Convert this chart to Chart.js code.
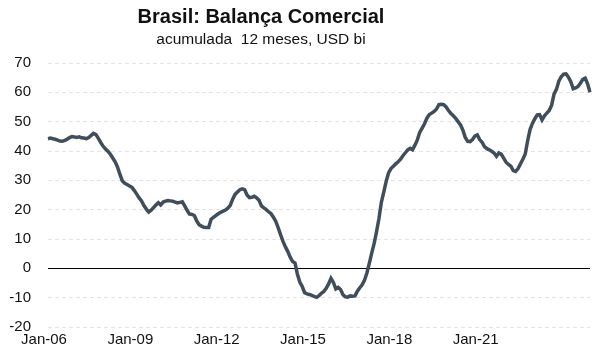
<!DOCTYPE html>
<html lang="pt">
<head>
  <meta charset="UTF-8" />
  <title>Brasil: Balança Comercial</title>
  <script src="https://cdn.jsdelivr.net/npm/chart.js"></script>
  <style>
    html, body {
      margin: 0;
      padding: 0;
      background: #fff;
    }
    #wrap {
      position: relative;
      width: 600px;
      height: 361px;
    }
  </style>
</head>
<body>
  <div id="wrap">
    <canvas id="tradeChart"></canvas>
  </div>

  <script>
    // 12-month accumulated trade balance, USD bn, monthly points from Jan-06
    const balance = [
      44.2, 44.4, 44.2, 44.0, 43.7, 43.4, 43.3, 43.6, 44.0, 44.6,
      44.9, 44.8, 44.6, 44.8, 44.5, 44.4, 44.2, 44.6, 45.3, 46.0,
      45.6, 44.3, 42.9, 41.6, 40.7, 39.9, 38.9, 37.6, 36.3, 34.5,
      32.0, 29.8, 29.0, 28.6, 28.1, 27.6, 26.5, 25.3, 24.0, 23.0,
      21.4, 20.2, 19.2, 19.8, 20.7, 21.6, 22.4, 21.6, 22.6, 22.9,
      23.1, 23.0, 22.9, 22.6, 22.3, 22.5, 22.7, 21.3, 19.8, 18.5,
      18.4, 18.0, 16.2, 14.9, 14.4, 14.0, 13.9, 13.9, 16.7, 17.4,
      18.0, 18.6, 19.1, 19.5, 19.9, 20.5, 21.5, 23.6, 25.2, 26.0,
      26.8, 27.1, 26.8, 25.0, 24.1, 24.2, 24.6, 24.0, 23.2, 21.3,
      20.6, 20.0, 19.3, 18.6, 17.4, 16.0, 13.8, 11.4, 9.2, 7.3,
      5.7, 3.8, 2.3, 1.8, -2.0, -4.7, -6.2, -8.3, -8.7, -8.9,
      -9.2, -9.6, -9.9, -9.3, -8.5, -7.9, -6.8, -5.3, -3.4, -4.8,
      -7.0, -6.5, -7.2, -9.0, -9.7, -9.8, -9.4, -9.5, -9.4, -7.8,
      -6.6, -5.6, -4.0, -1.5, 1.8, 5.3, 8.5, 12.5, 17.0, 22.5,
      26.0, 29.6, 32.5, 34.0, 34.8, 35.6, 36.3, 37.2, 38.4, 39.4,
      40.4, 40.9, 40.4, 42.0, 43.8, 46.3, 47.8, 49.3, 51.2, 52.4,
      52.9, 53.5, 54.3, 55.8, 55.9, 55.8, 55.0, 53.8, 52.8, 52.0,
      51.1, 50.0, 48.9, 47.1, 44.6, 43.3, 43.2, 43.9, 45.1, 45.5,
      43.9, 43.0, 41.5, 40.8, 40.4, 39.9, 39.3, 38.2, 39.3, 38.9,
      37.6, 36.2, 35.4, 34.8, 33.3, 33.0, 34.0, 35.6, 37.2, 39.0,
      43.5, 47.3, 49.4, 51.0, 52.3, 52.4, 50.6, 52.0, 52.9, 53.8,
      55.6, 59.4, 61.0, 63.8, 65.3, 66.2, 66.3, 65.2, 63.6, 61.2,
      61.5, 62.0, 63.1, 64.4, 64.8, 62.9, 60.0
    ];

    // category labels shown every 36 months
    const tickLabels = ['Jan-06', 'Jan-09', 'Jan-12', 'Jan-15', 'Jan-18', 'Jan-21'];
    const tickStep = 36;

    const yMin = -20;
    const yMax = 70;
    const yStep = 10;

    const title = 'Brasil: Balança Comercial';
    const subtitle = 'acumulada  12 meses, USD bi';

    const categories = balance.map((_, i) => i);

    // zero line + two-line heading drawn over the chart
    const extras = {
      id: 'extras',
      beforeDatasetsDraw(chart) {
        const { ctx, chartArea, scales } = chart;
        const y0 = Math.round(scales.y.getPixelForValue(0)) + 0.5;
        ctx.save();
        ctx.strokeStyle = '#000';
        ctx.lineWidth = 1;
        ctx.beginPath();
        ctx.moveTo(chartArea.left, y0);
        ctx.lineTo(chartArea.right, y0);
        ctx.stroke();
        ctx.restore();
      },
      afterDraw(chart) {
        const { ctx } = chart;
        ctx.save();
        ctx.fillStyle = '#111';
        ctx.textAlign = 'center';
        ctx.textBaseline = 'middle';
        ctx.font = 'bold 20px "Liberation Sans", Arial, sans-serif';
        ctx.fillText(title, 261, 17);
        ctx.font = '15.5px "Liberation Sans", Arial, sans-serif';
        ctx.fillText(subtitle, 261, 40);
        ctx.restore();
      }
    };

    new Chart(document.getElementById('tradeChart'), {
      type: 'line',
      data: {
        labels: categories,
        datasets: [{
          data: balance,
          borderColor: '#404e5c',
          borderWidth: 3.5,
          pointRadius: 0,
          tension: 0,
          fill: false
        }]
      },
      options: {
        responsive: true,
        maintainAspectRatio: false,
        animation: false,
        layout: { padding: { top: 63, right: 10, left: 0, bottom: 0 } },
        plugins: {
          legend: { display: false },
          tooltip: { enabled: false }
        },
        scales: {
          x: {
            type: 'category',
            offset: false,
            grid: { display: false },
            border: { display: false },
            afterFit: s => { s.height = 34; },
            ticks: {
              autoSkip: false,
              maxRotation: 0,
              minRotation: 0,
              padding: -4,
              labelOffset: -4,
              color: '#111',
              font: { family: '"Liberation Sans", Arial, sans-serif', size: 15 },
              callback: (v, i) => (i % tickStep === 0 && tickLabels[i / tickStep]) ? tickLabels[i / tickStep] : ''
            }
          },
          y: {
            min: yMin,
            max: yMax,
            border: { display: false, dash: [4, 3] },
            grid: { color: '#e4e4e4', drawTicks: false, lineWidth: 1 },
            afterFit: s => { s.width = 48; },
            ticks: {
              stepSize: yStep,
              padding: 17,
              color: '#111',
              font: { family: '"Liberation Sans", Arial, sans-serif', size: 15 }
            }
          }
        }
      },
      plugins: [extras]
    });
  </script>
</body>
</html>
